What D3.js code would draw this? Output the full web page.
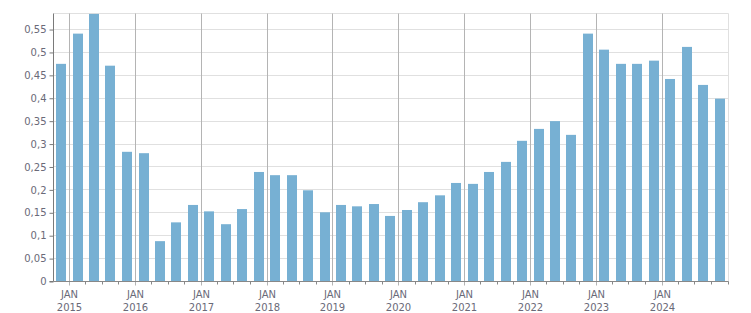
<!DOCTYPE html>
<html>
<head>
<meta charset="utf-8">
<script src="https://cdn.jsdelivr.net/npm/d3@7"></script>
<style>
  body { margin: 0; background: #fff; }
  svg text { font-family: "DejaVu Sans", Verdana, sans-serif; font-size: 10px; fill: #6a6a78; }
</style>
</head>
<body>
<div id="chart"></div>
<script>
// quarterly periods, Q4 2014 .. Q4 2024
const quarters = d3.timeMonths(new Date(2014, 9, 1), new Date(2025, 0, 1), 3);
const values = [
  0.474, 0.540, 0.583, 0.470, 0.282, 0.279,
  0.087, 0.128, 0.166, 0.152, 0.124, 0.157,
  0.238, 0.231, 0.231, 0.198, 0.150, 0.166,
  0.163, 0.168, 0.142, 0.155, 0.172, 0.187,
  0.214, 0.212, 0.238, 0.260, 0.306, 0.332,
  0.349, 0.319, 0.540, 0.505, 0.474, 0.474,
  0.481, 0.441, 0.511, 0.428, 0.398
];
const yTicks = [0, 0.05, 0.1, 0.15, 0.2, 0.25, 0.3, 0.35, 0.4, 0.45, 0.5, 0.55];
const yMax = 0.585;

const W = 751, H = 313;
const margin = {top: 13, right: 23, bottom: 32, left: 53};
const width = W - margin.left - margin.right;
const height = H - margin.top - margin.bottom;

const svg = d3.select('#chart').append('svg')
  .attr('width', W).attr('height', H);
const g = svg.append('g')
  .attr('transform', `translate(${margin.left + 0.5},${margin.top + 0.5})`);

const x = d3.scaleTime()
  .domain([new Date(2014, 9, 1), new Date(2025, 0, 1)])
  .range([0, width]);
const y = d3.scaleLinear().domain([0, yMax]).range([height, 0]);
const px = d => Math.floor(x(d));

const fmt = v => d3.format('~g')(v).replace('.', ',');

// horizontal grid
g.append('g').selectAll('line').data(yTicks.concat([yMax])).enter().append('line')
  .attr('x1', 0).attr('x2', width)
  .attr('y1', d => Math.round(y(d))).attr('y2', d => Math.round(y(d)))
  .attr('stroke', '#e0e0e0');
g.append('line')
  .attr('x1', width).attr('x2', width).attr('y1', 0).attr('y2', height)
  .attr('stroke', '#e0e0e0');

// vertical year grid
const years = d3.timeYears(new Date(2015, 0, 1), new Date(2024, 11, 31));
g.append('g').selectAll('line').data(years).enter().append('line')
  .attr('x1', px).attr('x2', px)
  .attr('y1', 0).attr('y2', height + 4)
  .attr('stroke', '#b4b4b4');

// bars
const bw = 10;
g.append('g').selectAll('rect').data(values).enter().append('rect')
  .attr('x', (d, i) => {
    const mid = (x(quarters[i]) + x(d3.timeMonth.offset(quarters[i], 3))) / 2;
    return Math.round(mid - bw / 2) - 0.5;
  })
  .attr('width', bw)
  .attr('y', d => y(d) - 0.5)
  .attr('height', d => height - y(d))
  .attr('fill', '#77b0d3');

// y axis
const yAxis = d3.axisLeft(y).tickValues(yTicks).tickFormat(fmt).tickSize(4).tickPadding(3);
const ya = g.append('g').call(yAxis);
ya.select('.domain').attr('d', `M-4,${height}H0V0`).attr('stroke', '#7a7a7a');
ya.selectAll('.tick line').attr('stroke', '#7a7a7a');
ya.selectAll('.tick text').attr('fill', null).style('font-size', '10px');

// x axis: minor quarter ticks
const minor = quarters.slice(1).filter(d => d.getMonth() !== 0).concat([new Date(2025, 0, 1)]);
const xa = g.append('g').attr('transform', `translate(0,${height})`);
xa.append('line').attr('x1', 0).attr('x2', width).attr('stroke', '#888');
xa.selectAll('.minor').data(minor).enter().append('line')
  .attr('class', 'minor')
  .attr('x1', px).attr('x2', px)
  .attr('y1', 0).attr('y2', 3)
  .attr('stroke', '#888');
const lab = xa.selectAll('.lab').data(years).enter().append('text')
  .attr('class', 'lab')
  .attr('text-anchor', 'middle')
  .attr('transform', d => `translate(${px(d)},0)`);
lab.append('tspan').attr('x', 0).attr('y', 16.5).text('JAN');
lab.append('tspan').attr('x', 0).attr('y', 29).text(d => d.getFullYear());
</script>
</body>
</html>
